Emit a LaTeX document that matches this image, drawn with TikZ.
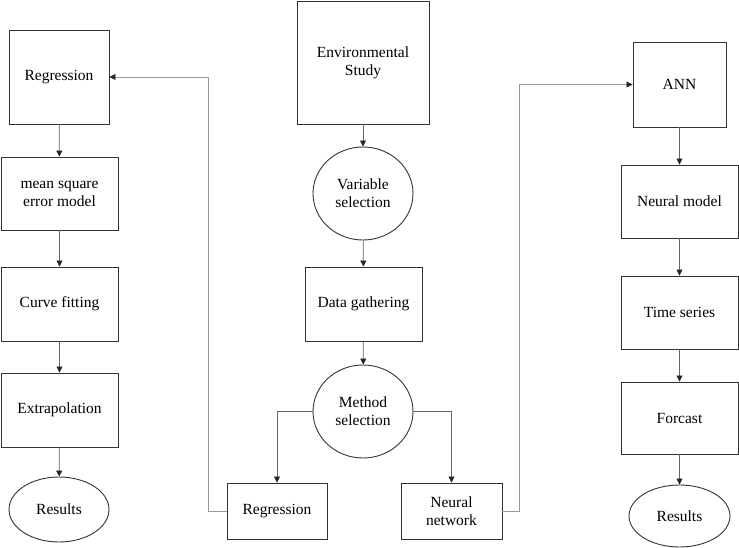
\documentclass[tikz,border=0pt]{standalone}
\usepackage{fontspec}
\setmainfont{Liberation Serif}
\newfontfamily\diagfont{Liberation Serif}
\usetikzlibrary{shapes,arrows.meta,positioning}

\begin{document}
\begin{tikzpicture}[
    x=1pt,
    y=-1pt,
    block/.style 2 args={
        rectangle,
        draw=black!80,
        line width=0.9pt,
        align=center,
        inner sep=0pt,
        minimum width=#1,
        minimum height=#2,
        font=\diagfont\fontsize{15.5}{18}\selectfont
    },
    cloud/.style 2 args={
        ellipse,
        draw=black!80,
        line width=0.9pt,
        align=center,
        inner sep=0pt,
        minimum width=#1,
        minimum height=#2,
        font=\diagfont\fontsize{15.5}{18}\selectfont
    },
    line/.style={
        draw=black!60,
        line width=0.7pt,
        -{Triangle[length=6pt,width=6pt,color=black!85]}
    },
    longline/.style={
        line,
        draw=black!40
    }
]
\useasboundingbox (0,0) rectangle (739,548);

% Left column
\node [block={100pt}{94pt}] (reg) at (59,77) {Regression};
\node [block={117pt}{73pt}] (mse) at (59.5,193.5) {mean square\\error model};
\node [block={117pt}{74pt}] (curve) at (59.5,304) {Curve fitting};
\node [block={117pt}{74pt}] (extra) at (59.5,410) {Extrapolation};
\node [cloud={100pt}{65pt}] (resl) at (59,509.5) {Results};

% Middle column
\node [block={132pt}{123pt}] (env) at (363,62.5) {Environmental\\Study};
\node [cloud={100pt}{93pt}] (var) at (363,193.5) {Variable\\selection};
\node [block={117pt}{74pt}] (data) at (363.5,304) {Data gathering};
\node [cloud={100pt}{93pt}] (meth) at (363,411.5) {Method\\selection};
\node [block={100pt}{56pt}] (regm) at (277,511) {Regression};
\node [block={101pt}{56pt}] (nnet) at (451.5,511) {Neural\\network};

% Right column
\node [block={93pt}{85pt}] (ann) at (679.5,84.5) {ANN};
\node [block={117pt}{73pt}] (nmod) at (679.5,201.5) {Neural model};
\node [block={117pt}{73pt}] (tser) at (679.5,312.5) {Time series};
\node [block={117pt}{72pt}] (fcast) at (679.5,418) {Forcast};
\node [cloud={101pt}{62pt}] (resr) at (679.5,516) {Results};

% Edges
\path [line] (reg) -- (mse);
\path [line] (mse) -- (curve);
\path [line] (curve) -- (extra);
\path [line] (extra) -- (resl);
\path [line] (env) -- (var);
\path [line] (var) -- (data);
\path [line] (data) -- (meth);
\path [line] (meth.west) -| (regm.north);
\path [line] (meth.east) -| (nnet.north);
\path [longline] (regm.west) -- ++(-18,0) |- (reg.east);
\path [longline] (nnet.east) -- ++(17,0) |- (ann.west);
\path [line] (ann) -- (nmod);
\path [line] (nmod) -- (tser);
\path [line] (tser) -- (fcast);
\path [line] (fcast) -- (resr);

\end{tikzpicture}
\end{document}
